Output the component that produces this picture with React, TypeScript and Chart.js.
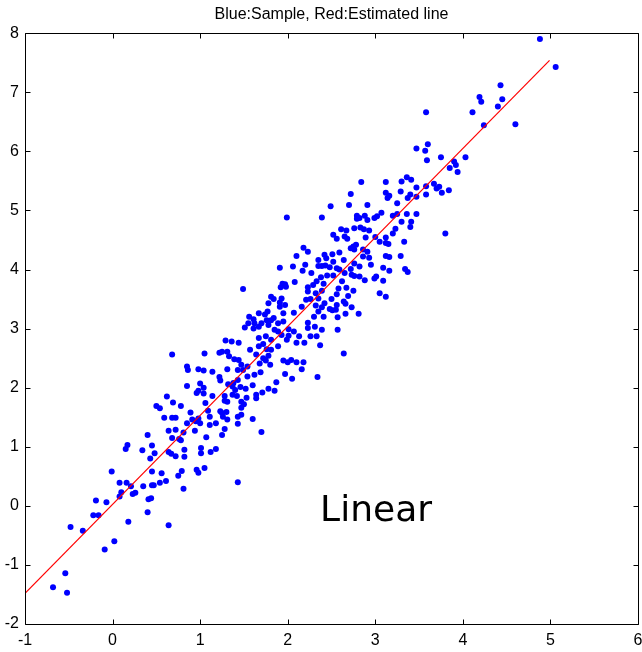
import React, { useEffect, useRef } from "react";
import { Chart, registerables } from "chart.js";

Chart.register(...registerables);

const titleText = "Blue:Sample, Red:Estimated line";
const annotationText = "Linear";
const annotationX = 2.37;
const annotationY = -0.25;

const xTicks = [-1, 0, 1, 2, 3, 4, 5, 6];
const yTicks = [-2, -1, 0, 1, 2, 3, 4, 5, 6, 7, 8];

// Estimated line (red)
const lineX = [-1.0, 4.99];
const lineY = [-1.48, 7.54];

// Samples (blue)
const sampleX = [
  -0.01, -0.19, -0.07, -0.22, -0.16, -0.48, -0.34, 0.02, -0.09, -0.54, -0.68, -0.52,
  0.68, 0.62, 0.69, 0.5, 0.54, 0.78, 0.59, 0.68, 0.72, 0.64, 0.72, 0.4, 0.68, 0.76, 0.78,
  0.17, 0.15, 0.45, 0.34, 0.48, 0.64, 0.67, 0.43, 0.72, 0.45, 0.56, 0.75, 0.79, 0.08, 0.16,
  0.35, 0.45, 0.47, 0.54, 0.61, 0.21, 0.1, 0.08, 0.23, 0.26, 0.41, 0.44, 0.4, 0.18, 0.64,
  1.49, 1.56, 1.61, 1.55, 1.62, 1.51, 1.61, 1.29, 1.36, 1.44,
  1.05, 1.22, 1.25, 1.31, 1.33, 1.39, 1.44, 1.57, 1.47, 1.54,
  1.49, 0.85, 0.86, 0.98, 1.04, 1.14, 1.31, 1.43, 1.22, 1.23,
  1.38, 1.32, 1.43, 1.54, 0.85, 1.0, 1.04, 0.98, 0.96, 1.04,
  1.37, 1.4, 1.46, 1.52, 1.6, 1.37, 1.42, 1.28, 1.14, 1.53,
  1.06, 1.28, 1.31, 1.47, 1.5, 1.47, 0.89, 1.23, 1.25, 1.3,
  1.09, 1.11, 0.98, 0.95, 0.91, 1.0, 1.26, 1.47, 1.43, 1.6,
  1.31, 1.11, 1.18, 0.85, 0.81, 0.94, 1.28, 1.25, 1.07, 1.43,
  0.82, 1.01, 1.18, 1.12, 1.01, 0.82, 0.96, 0.98, 1.05, 1.43,
  0.81,
  1.99, 2.39, 2.18, 2.23, 2.1, 2.42, 2.35, 2.2, 2.06, 1.91,
  2.17, 2.35, 2.39, 2.27, 2.38, 2.33, 2.08, 1.94, 1.97, 1.92,
  1.98, 2.23, 2.29, 2.41, 2.23, 2.32, 2.39, 1.81, 1.84, 1.93,
  1.78, 1.91, 2.21, 2.26, 2.35, 1.97, 2.16, 1.91, 2.32, 2.39,
  1.77, 1.67, 2.35, 1.95, 2.07, 2.41, 2.3, 1.74, 1.84, 1.81,
  1.76, 1.7, 1.89, 1.95, 1.67, 1.78, 1.85, 1.89, 2.01, 2.07,
  2.23, 2.31, 2.39, 2.23, 2.33, 2.26, 2.13, 2.01, 1.93, 1.75,
  1.81, 1.67, 1.99, 2.1, 2.19, 2.37, 1.72, 1.76, 1.67, 1.81,
  1.89, 1.64, 1.72, 1.78, 1.68, 1.75, 1.8, 1.95, 2.0, 2.04,
  2.1, 2.18, 2.16, 1.69, 1.97, 2.05, 2.34, 1.87, 1.78, 1.85,
  1.71, 1.64, 1.64, 1.62, 1.7,
  2.84, 3.12, 3.12, 3.16, 3.14, 2.72, 2.49, 2.7, 2.91, 2.79,
  2.82, 2.79, 2.88, 2.99, 3.02, 3.07, 3.2, 2.91, 2.83, 2.93,
  2.87, 2.76, 2.61, 2.52, 2.67, 2.65, 2.56, 2.68, 3.0, 3.12,
  3.2, 2.89, 3.05, 3.12, 3.15, 2.72, 2.75, 2.78, 2.76, 2.86,
  2.91, 2.51, 2.59, 2.86, 2.93, 3.12, 3.16, 2.44, 2.43, 2.52,
  2.64, 2.76, 2.82, 2.95, 3.09, 3.16, 2.48, 2.56, 2.59, 2.65,
  2.72, 2.52, 2.45, 2.73, 2.76, 2.82, 3.01, 2.88, 2.99, 3.09,
  2.62, 2.58, 2.67, 2.75, 3.05, 3.12, 2.56, 2.69, 2.64, 2.66,
  2.5, 2.42, 2.56, 2.48, 2.51, 2.55, 2.73, 2.81, 2.66, 2.57,
  2.57, 2.64,
  3.58, 3.47, 3.57, 3.6, 3.59, 3.75, 3.9, 3.92, 3.94, 3.85,
  3.36, 3.41, 3.3, 3.47, 3.58, 3.67, 3.7, 3.73, 3.84, 3.76,
  3.29, 3.4, 3.37, 3.47, 3.58, 3.25, 3.25, 3.36, 3.47, 3.3,
  3.41, 3.4, 3.23, 3.8, 3.33, 3.29, 3.34, 3.37,
  4.88, 5.06, 4.43, 4.19, 4.21, 4.45, 4.4, 4.11, 4.24, 4.6, 4.03,
];

const sampleY = [
  0.58, 0.09, 0.06, -0.16, -0.16, -0.36, -0.42, -0.6, -0.74, -1.14, -1.38, -1.47,
  2.56, 1.85, 1.75, 1.69, 1.65, 1.69, 1.49, 1.49, 1.49, 1.27, 1.29, 1.2, 1.15, 1.13, 1.11,
  1.03, 0.96, 1.02, 0.94, 0.89, 0.91, 0.88, 0.8, 0.84, 0.58, 0.55, 0.51, 0.59, 0.39, 0.39,
  0.33, 0.35, 0.35, 0.39, 0.42, 0.33, 0.23, 0.16, 0.2, 0.22, 0.11, 0.13, -0.11, -0.27, -0.33,
  3.67, 3.2, 3.16, 3.09, 3.09, 3.02, 3.0, 2.8, 2.78, 2.76,
  2.58, 2.59, 2.61, 2.61, 2.53, 2.48, 2.47, 2.64, 2.39, 2.36,
  2.3, 2.36, 2.3, 2.31, 2.29, 2.27, 2.31, 2.3, 2.18, 2.12,
  2.08, 2.06, 2.13, 2.19, 2.03, 2.07, 2.0, 1.95, 1.91, 1.9,
  2.02, 1.96, 2.01, 1.98, 2.04, 1.88, 1.86, 1.86, 1.86, 1.83,
  1.74, 1.78, 1.76, 1.76, 1.72, 1.66, 1.58, 1.6, 1.57, 1.59,
  1.61, 1.51, 1.48, 1.43, 1.46, 1.4, 1.51, 1.54, 1.51, 1.47,
  1.46, 1.37, 1.4, 1.4, 1.24, 1.27, 1.3, 1.2, 1.16, 1.39,
  0.95, 0.98, 0.96, 0.91, 0.89, 0.83, 0.61, 0.56, 0.64, 0.4,
  0.29,
  4.88, 4.88, 4.37, 4.3, 4.23, 4.25, 4.16, 4.08, 4.05, 4.03,
  3.98, 4.06, 4.06, 3.94, 3.87, 3.8, 3.79, 3.76, 3.75, 3.7,
  3.71, 3.7, 3.74, 3.76, 3.63, 3.6, 3.64, 3.54, 3.5, 3.51,
  3.43, 3.44, 3.49, 3.5, 3.51, 3.4, 3.37, 3.37, 3.39, 3.36,
  3.29, 3.26, 3.29, 3.26, 3.27, 3.2, 3.2, 3.24, 3.18, 3.14,
  3.14, 3.09, 3.09, 3.12, 3.03, 3.06, 2.98, 2.95, 2.99, 2.95,
  3.1, 3.03, 2.98, 3.01, 2.87, 2.87, 2.87, 2.88, 2.89, 2.87,
  2.81, 2.84, 2.81, 2.76, 2.76, 2.72, 2.74, 2.65, 2.7, 2.64,
  2.7, 2.56, 2.5, 2.54, 2.41, 2.46, 2.39, 2.46, 2.43, 2.47,
  2.43, 2.43, 2.31, 2.26, 2.23, 2.15, 2.18, 2.09, 1.98, 1.95,
  1.92, 1.88, 1.82, 2.22, 1.25,
  5.48, 5.48, 5.3, 5.25, 5.21, 5.28, 5.07, 5.09, 5.09, 4.91,
  4.87, 4.86, 4.91, 4.87, 4.9, 4.96, 4.91, 4.84, 4.71, 4.66,
  4.68, 4.7, 4.68, 4.59, 4.66, 4.56, 4.52, 4.52, 4.55, 4.54,
  4.61, 4.54, 4.47, 4.45, 4.43, 4.36, 4.39, 4.42, 4.34, 4.34,
  4.3, 4.26, 4.29, 4.22, 4.2, 4.23, 4.21, 4.19, 4.07, 4.13,
  4.16, 4.1, 4.05, 4.08, 4.03, 3.98, 4.04, 4.02, 4.0, 3.94,
  4.01, 3.9, 3.9, 3.91, 3.89, 3.88, 3.88, 3.82, 3.85, 3.81,
  3.8, 3.68, 3.69, 3.64, 3.6, 3.54, 3.58, 3.55, 3.46, 3.42,
  3.5, 3.43, 3.4, 3.33, 3.31, 3.32, 3.36, 3.25, 3.25, 3.19,
  2.98, 2.58,
  6.66, 6.05, 6.01, 6.12, 5.85, 5.9, 5.83, 5.77, 5.65, 5.72,
  5.56, 5.52, 5.49, 5.39, 5.41, 5.45, 5.37, 5.4, 5.34, 5.3,
  5.32, 5.27, 5.21, 5.23, 5.27, 5.12, 4.94, 4.94, 4.94, 4.81,
  4.81, 4.72, 4.69, 4.61, 4.47, 4.23, 4.01, 3.96,
  7.9, 7.43, 7.12, 6.92, 6.84, 6.88, 6.76, 6.66, 6.44, 6.46, 5.9,
];

const FONT = "'Liberation Sans', Arial, sans-serif";

const framePlugin = {
  id: "matlabFrame",
  afterDatasetsDraw(chart: any) {
    const { ctx, chartArea: a, scales } = chart;
    const xs = scales.x;
    const ys = scales.y;
    ctx.save();
    // annotation text
    ctx.fillStyle = "#000";
    ctx.font = "36px 'DejaVu Sans', Verdana, sans-serif";
    ctx.textAlign = "left";
    ctx.textBaseline = "alphabetic";
    ctx.fillText(annotationText, xs.getPixelForValue(annotationX), ys.getPixelForValue(annotationY));
    // box
    ctx.strokeStyle = "#000";
    ctx.lineWidth = 1;
    const L = Math.round(a.left) + 0.5;
    const R = Math.round(a.right) + 0.5;
    const T = Math.round(a.top) + 0.5;
    const B = Math.round(a.bottom) + 0.5;
    ctx.beginPath();
    ctx.rect(L, T, R - L, B - T);
    const tl = 5;
    xTicks.forEach((v) => {
      const px = Math.round(xs.getPixelForValue(v)) + 0.5;
      ctx.moveTo(px, B);
      ctx.lineTo(px, B - tl);
      ctx.moveTo(px, T);
      ctx.lineTo(px, T + tl);
    });
    yTicks.forEach((v) => {
      const py = Math.round(ys.getPixelForValue(v)) + 0.5;
      ctx.moveTo(L, py);
      ctx.lineTo(L + tl, py);
      ctx.moveTo(R, py);
      ctx.lineTo(R - tl, py);
    });
    ctx.stroke();
    ctx.restore();
  },
};

export default function App() {
  const ref = useRef<HTMLCanvasElement | null>(null);

  useEffect(() => {
    if (!ref.current) return;
    const n = Math.min(sampleX.length, sampleY.length);
    const samples = [];
    for (let i = 0; i < n; i++) samples.push({ x: sampleX[i], y: sampleY[i] });
    const line = lineX.map((x, i) => ({ x, y: lineY[i] }));

    const chart = new Chart(ref.current, {
      type: "scatter",
      data: {
        datasets: [
          {
            label: "Estimated line",
            data: line,
            showLine: true,
            borderColor: "#ff0000",
            borderWidth: 1.2,
            pointRadius: 0,
            order: 0,
          } as any,
          {
            label: "Sample",
            data: samples,
            backgroundColor: "#0000ff",
            borderWidth: 0,
            pointRadius: 3,
            order: 1,
          },
        ],
      },
      options: {
        animation: false,
        responsive: false,
        devicePixelRatio: 1,
        layout: { padding: { left: 0, right: 4, top: 0, bottom: 0 } },
        plugins: {
          legend: { display: false },
          tooltip: { enabled: false },
          title: {
            display: true,
            text: titleText,
            fullSize: false,
            color: "#000",
            font: { family: FONT, size: 16, weight: "normal" },
            padding: { top: 5, bottom: 9 },
          },
        },
        scales: {
          x: {
            type: "linear",
            min: -1,
            max: 6,
            afterBuildTicks: (s: any) => {
              s.ticks = xTicks.map((v) => ({ value: v }));
            },
            afterFit: (s: any) => {
              s.height = 28;
              s.paddingLeft = 0;
              s.paddingRight = 0;
            },
            grid: { display: false, drawTicks: false },
            border: { display: false },
            ticks: {
              color: "#000",
              font: { family: FONT, size: 16 },
              padding: 7,
              maxRotation: 0,
              autoSkip: false,
            },
          },
          y: {
            type: "linear",
            min: -2,
            max: 8,
            afterBuildTicks: (s: any) => {
              s.ticks = yTicks.map((v) => ({ value: v }));
            },
            afterFit: (s: any) => {
              s.width = 25;
              s.paddingTop = 0;
              s.paddingBottom = 0;
            },
            grid: { display: false, drawTicks: false },
            border: { display: false },
            ticks: {
              color: "#000",
              font: { family: FONT, size: 16 },
              padding: 6,
              autoSkip: false,
            },
          },
        },
      },
      plugins: [framePlugin],
    });
    return () => chart.destroy();
  }, []);

  return (
    <div style={{ position: "absolute", left: 0, top: 0, width: 642, height: 652, background: "#fff" }}>
      <canvas ref={ref} width={642} height={652} style={{ display: "block" }} />
    </div>
  );
}
